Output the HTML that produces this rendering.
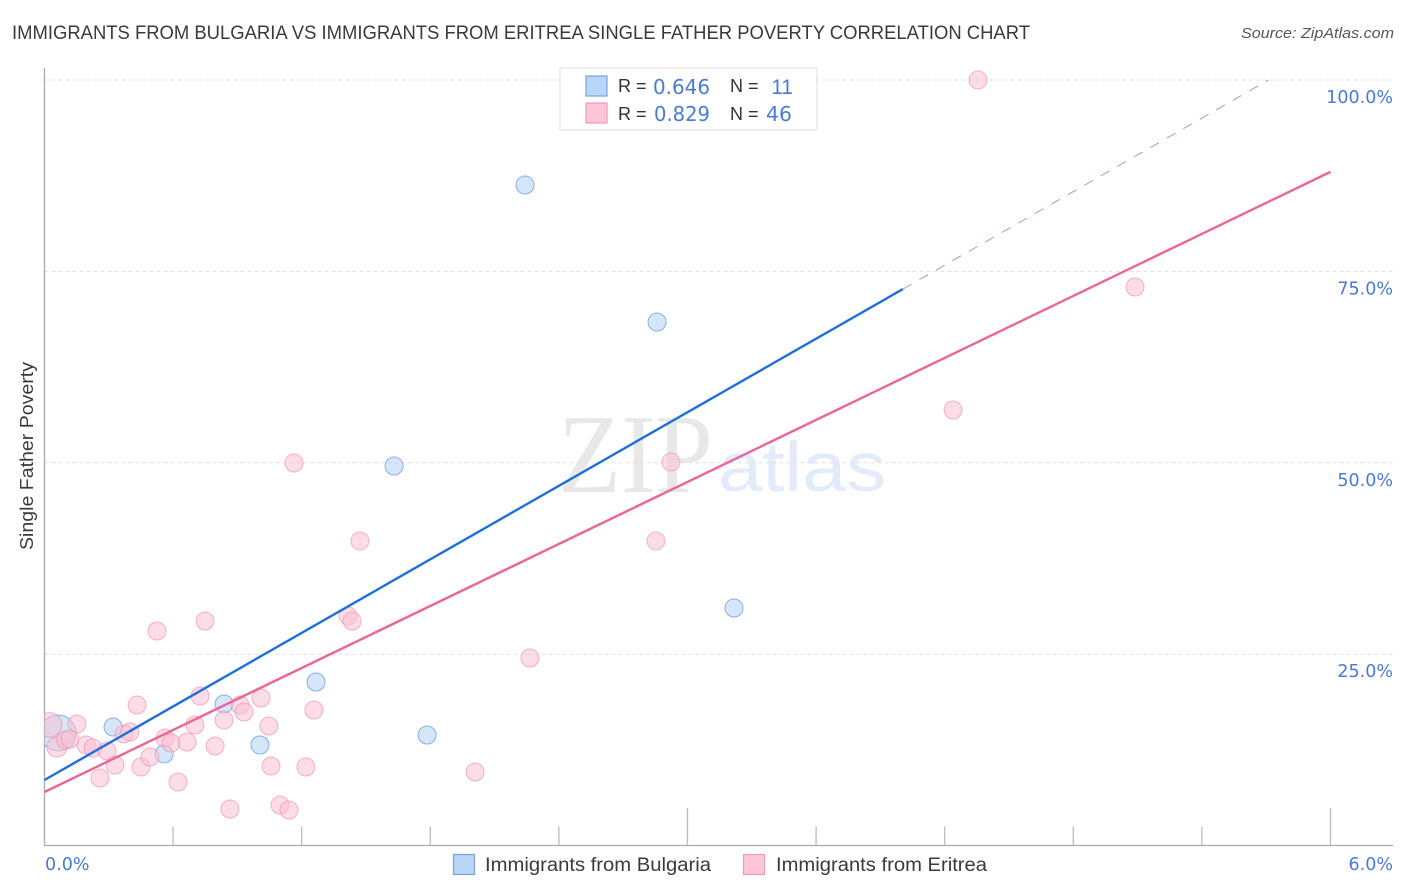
<!DOCTYPE html>
<html>
<head>
<meta charset="utf-8">
<title>Immigrants from Bulgaria vs Immigrants from Eritrea Single Father Poverty Correlation Chart</title>
<style>
html,body{margin:0;padding:0;background:#fff;width:1406px;height:892px;overflow:hidden}
svg{display:block}
text{font-family:"Liberation Sans",sans-serif}
.num{font-family:"DejaVu Sans","Liberation Sans",sans-serif;fill:#4a7bd4;font-size:17.5px}
</style>
</head>
<body>
<svg id="chart" width="1406" height="892" viewBox="0 0 1406 892" xmlns="http://www.w3.org/2000/svg">
  <defs>
    <clipPath id="plot-clip"><rect x="44.5" y="60" width="1349" height="785.5"/></clipPath>
  </defs>
  <text x="12" y="39" font-size="19.5" fill="#3a3a3a" textLength="1018" lengthAdjust="spacingAndGlyphs">IMMIGRANTS FROM BULGARIA VS IMMIGRANTS FROM ERITREA SINGLE FATHER POVERTY CORRELATION CHART</text>
  <text x="1394" y="38" font-size="15" font-style="italic" fill="#555" text-anchor="end" textLength="153" lengthAdjust="spacingAndGlyphs">Source: ZipAtlas.com</text>

  <g id="watermark">
    <text x="558" y="492" font-size="112" fill="#e8e8e8" textLength="155" lengthAdjust="spacingAndGlyphs" style="font-family:'Liberation Serif',serif">ZIP</text>
    <text x="718" y="491" font-size="70" fill="#e2ebf9" textLength="168" lengthAdjust="spacingAndGlyphs">atlas</text>
  </g>

  <g id="grid"></g>
  <g id="axes"></g>
  <g id="points" clip-path="url(#plot-clip)"></g>
  <g id="lines"></g>
  <g id="labels"></g>

  <text transform="translate(33,456) rotate(-90)" font-size="18.5" fill="#3a3a3a" text-anchor="middle" textLength="188" lengthAdjust="spacingAndGlyphs">Single Father Poverty</text>

  <g>
    <rect x="560" y="68" width="257" height="62" fill="#fff" stroke="#e2e2e2" stroke-width="1.2"/>
    <rect x="586" y="76" width="21" height="20" fill="#b9d5f7" stroke="#75a3dd" stroke-width="1.2"/>
    <rect x="586" y="103" width="21" height="20" fill="#fcc5d8" stroke="#ee9cb8" stroke-width="1.2"/>
    <text x="618" y="92" font-size="18" fill="#333">R =</text>
    <text x="653" y="94" class="num" style="font-size:20px" textLength="57" lengthAdjust="spacingAndGlyphs">0.646</text>
    <text x="730" y="92" font-size="18" fill="#333">N =</text>
    <text x="793" y="94" fill="#4a7bd4" font-size="21" text-anchor="end">11</text>
    <text x="618" y="120" font-size="18" fill="#333">R =</text>
    <text x="654" y="121" class="num" style="font-size:20px" textLength="56" lengthAdjust="spacingAndGlyphs">0.829</text>
    <text x="730" y="120" font-size="18" fill="#333">N =</text>
    <text x="792" y="121" class="num" style="font-size:20px" text-anchor="end" textLength="26" lengthAdjust="spacingAndGlyphs">46</text>
  </g>

  <g>
    <rect x="453.5" y="854.5" width="21" height="20" fill="#b9d5f7" stroke="#75a3dd" stroke-width="1.2"/>
    <text x="485" y="871" font-size="19" fill="#3a3a3a" textLength="226" lengthAdjust="spacingAndGlyphs">Immigrants from Bulgaria</text>
    <rect x="743.5" y="854.5" width="21" height="20" fill="#fcc5d8" stroke="#ee9cb8" stroke-width="1.2"/>
    <text x="776" y="871" font-size="19" fill="#3a3a3a" textLength="211" lengthAdjust="spacingAndGlyphs">Immigrants from Eritrea</text>
  </g>
</svg>
<script>
const xTickValues = [0,0.6,1.2,1.8,2.4,3,3.6,4.2,4.8,5.4,6];
const xMajorEvery = 5;
const xEndLabels = ["0.0%","6.0%"];
const xEndValues = [0,6];
const yTickValues = [25,50,75,100];
const yTickLabels = ["25.0%","50.0%","75.0%","100.0%"];

const bulgariaX = [2.242,2.858,1.631,3.217,1.267,0.838,0.320,1.785,1.005,0.558,0.063];
const bulgariaY = [86.28,68.39,49.58,31.03,21.37,18.50,15.49,14.45,13.14,11.96,14.71];
const bulgariaWeight = [1,1,1,1,1,1,1,1,1,1,4];

const eritreaX = [0.023,0.058,0.152,0.099,0.119,0.194,0.226,0.292,0.329,0.259,0.371,0.399,0.432,0.450,0.492,0.562,0.590,0.623,0.665,0.702,0.726,0.796,0.838,0.865,0.912,0.931,1.010,1.047,1.057,1.099,1.141,1.220,1.257,0.525,0.749,1.164,1.472,1.416,1.435,2.009,2.265,2.853,2.923,4.239,4.356,5.088];
const eritreaY = [15.75,12.88,15.88,13.79,13.92,13.14,12.75,12.36,10.53,8.83,14.58,14.84,18.36,10.27,11.57,14.05,13.40,8.31,13.53,15.75,19.54,13.01,16.41,4.78,18.36,17.45,19.28,15.62,10.40,5.30,4.65,10.27,17.71,28.03,29.34,49.97,39.79,29.99,29.34,9.61,24.50,39.79,50.10,56.90,100.0,72.96];
const eritreaWeight = [1.9,1.25,1,1,1,1,1,1,1,1,1,1,1,1,1,1,1,1,1,1,1,1,1,1,1,1,1,1,1,1,1,1,1,1,1,1,1,1,1,1,1,1,1,1,1,1];

const bulgariaFit = [8.57,16.01];
const bulgariaFitSolidEnd = [4.005];
const bulgariaFitDashEnd = [5.71];
const eritreaFit = [7.0,13.5];
const eritreaFitEnd = [6];

const NS = 'http://www.w3.org/2000/svg';
function sx(v){ return 44.5 + v * 214.33; }
function sy(v){ return 845.6 - v * 7.656; }
function rad(w){ return 9 * Math.sqrt(w); }
function make(tag, attrs, parent){
  const el = document.createElementNS(NS, tag);
  for (const k in attrs) el.setAttribute(k, attrs[k]);
  parent.appendChild(el);
  return el;
}
const grid = document.getElementById('grid');
const axes = document.getElementById('axes');
const points = document.getElementById('points');
const lines = document.getElementById('lines');
const labels = document.getElementById('labels');

yTickValues.forEach(function(v, i){
  const g = make('line', {x1:44.5, x2:1393, y1:sy(v), y2:sy(v), stroke:'#e0e0e0', 'stroke-width':1, 'stroke-dasharray':'4 3'}, grid);
  
  
  const t = make('text', {x:1393, y:sy(v)+23, 'text-anchor':'end', class:'num'}, labels);
  t.textContent = yTickLabels[i];
  
  
});

const yAxis = make('line', {x1:44.5, x2:44.5, y1:68, y2:846, stroke:'#aaa', 'stroke-width':1.3}, axes);


const xAxis = make('line', {x1:44, x2:1393, y1:845.5, y2:845.5, stroke:'#aaa', 'stroke-width':1.3}, axes);



xTickValues.forEach(function(v, i){
  if (i === 0) return;
  const major = i % xMajorEvery === 0;
  const tk = make('line', {x1:sx(v), x2:sx(v), y1:major ? 808 : 826.5, y2:845.5, stroke:'#bbb', 'stroke-width':1.3}, axes);
  
  
});

xEndLabels.forEach(function(s, i){
  const t = make('text', {x: i === 0 ? sx(xEndValues[i]) + 0.5 : 1393, y:870, 'text-anchor': i === 0 ? 'start' : 'end', class:'num'}, labels);
  t.textContent = s;
  
  
});

bulgariaX.forEach(function(x, i){
  const c = make('circle', {cx:sx(x), cy:sy(bulgariaY[i]), r:rad(bulgariaWeight[i]), fill:'#b9d5f7', 'fill-opacity':0.6, stroke:'#6f9fdc', 'stroke-opacity':0.8, 'stroke-width':1}, points);
  
  
});
eritreaX.forEach(function(x, i){
  const c = make('circle', {cx:sx(x), cy:sy(eritreaY[i]), r:rad(eritreaWeight[i]), fill:'#f9c0d2', 'fill-opacity':0.55, stroke:'#e88fae', 'stroke-opacity':0.65, 'stroke-width':1}, points);
  
  
});

function fitY(fit, x){ return fit[0] + fit[1] * x; }
const dash = make('line', {x1:sx(bulgariaFitSolidEnd[0]), y1:sy(fitY(bulgariaFit, bulgariaFitSolidEnd[0])), x2:sx(bulgariaFitDashEnd[0]), y2:sy(fitY(bulgariaFit, bulgariaFitDashEnd[0])), stroke:'#7a9fd8', 'stroke-width':0.9, 'stroke-dasharray':'10 9'}, lines);


const solidB = make('line', {x1:sx(0), y1:sy(fitY(bulgariaFit, 0)), x2:sx(bulgariaFitSolidEnd[0]), y2:sy(fitY(bulgariaFit, bulgariaFitSolidEnd[0])), stroke:'#1f6fd6', 'stroke-width':2.4}, lines);


const solidE = make('line', {x1:sx(0), y1:sy(fitY(eritreaFit, 0)), x2:sx(eritreaFitEnd[0]), y2:sy(fitY(eritreaFit, eritreaFitEnd[0])), stroke:'#e9659a', 'stroke-width':2.4}, lines);


</script>
</body>
</html>
